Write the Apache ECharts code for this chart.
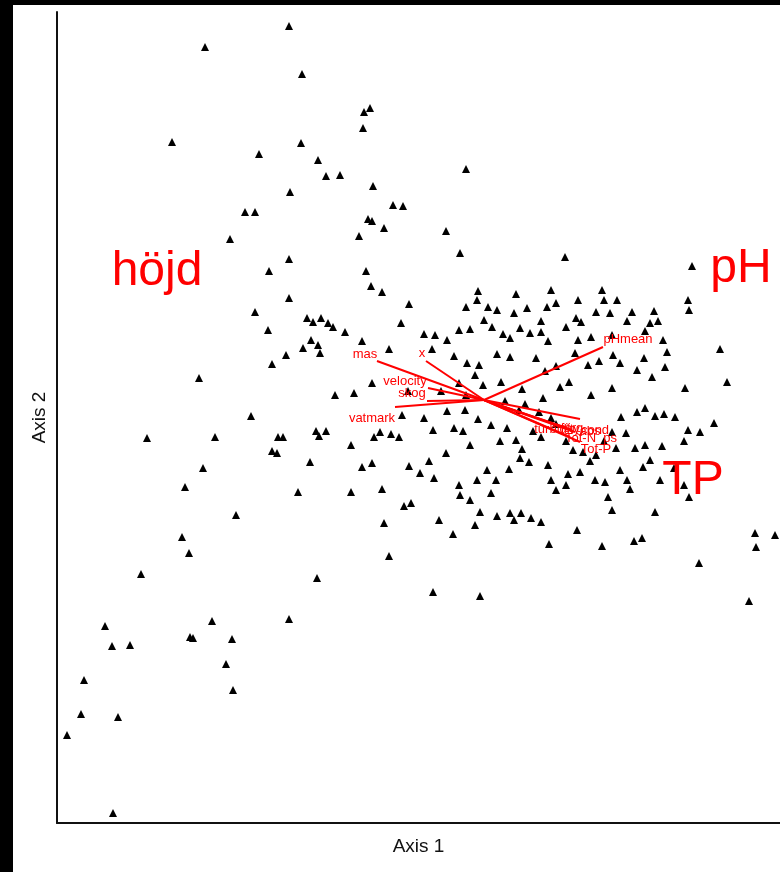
<!DOCTYPE html>
<html><head><meta charset="utf-8">
<script src="https://cdn.jsdelivr.net/npm/echarts@6/dist/echarts.min.js"></script>
<style>html,body{margin:0;padding:0;background:#fff}#c{width:780px;height:872px}</style>
</head><body><div id="c"></div>
<script>
// Site scores (Axis 1, Axis 2)
const sites = [
[-1.95,3.74],[-2.79,3.53],[-1.82,3.26],[-1.14,2.92],[-1.20,2.88],[-1.21,2.72],[-3.12,2.58],[-1.83,2.57],[-2.25,2.46],[-1.66,2.40],
[-0.18,2.31],[-1.58,2.24],[-1.44,2.25],[-1.11,2.14],[-1.94,2.08],[-0.91,1.95],[-0.81,1.94],[-2.39,1.88],[-2.29,1.88],[-1.16,1.81],
[-1.12,1.79],[-1.00,1.72],[-0.38,1.69],[-2.54,1.61],[-1.25,1.64],[-1.95,1.41],[-0.24,1.47],[0.81,1.43],[-2.15,1.29],[-1.18,1.29],
[2.08,1.34],[-1.13,1.14],[-1.02,1.08],[-0.06,1.09],[0.32,1.06],[0.67,1.10],[1.18,1.10],[0.94,1.00],[1.20,1.00],[-1.95,1.02],
[2.04,1.00],[-2.29,0.88],
[-0.83,0.77],[-0.75,0.96],[-0.60,0.66],[-0.49,0.65],[-0.37,0.60],[-0.25,0.70],[-0.14,0.71],[-0.07,1.00],[-0.18,0.93],[0.04,0.93],
[0.13,0.90],[0.00,0.80],[0.08,0.73],[0.19,0.66],[0.26,0.62],[0.30,0.87],[0.36,0.72],[0.43,0.92],[0.46,0.67],[0.57,0.79],
[0.57,0.68],[0.63,0.93],[0.72,0.97],[0.64,0.59],[0.82,0.73],[0.92,0.82],[0.97,0.78],[0.94,0.60],[1.07,0.63],[1.12,0.88],
[1.26,0.87],[1.28,0.65],[1.43,0.79],[1.48,0.88],[1.61,0.69],[1.70,0.89],[1.74,0.79],[1.66,0.77],[1.79,0.60],[2.05,0.90],
[1.33,1.00],[-1.77,0.82],[-1.71,0.78],[-1.63,0.82],[-1.56,0.77],[-1.51,0.73],[-1.39,0.68],[-1.73,0.60],[-2.16,0.70],[-1.66,0.55],
[-1.22,0.59],[-0.95,0.51],[-0.52,0.51],[-0.30,0.44],[-0.17,0.37],[-0.05,0.35],[0.13,0.46],[0.26,0.43],[0.52,0.42],[0.72,0.34],
[0.61,0.29],[0.91,0.47],[1.04,0.35],[1.15,0.39],[1.29,0.45],[1.36,0.37],[1.60,0.42],[1.68,0.23],[1.81,0.33],[1.83,0.48],
[1.53,0.30],[2.36,0.51],[2.43,0.18],[2.01,0.12],[1.28,0.12],[1.07,0.05],[0.85,0.18],[0.76,0.13],[0.59,0.02],[0.38,0.11],
[0.17,0.18],[-0.09,0.25],[-0.01,0.15],[-0.25,0.17],[-0.43,0.09],[-1.12,0.17],[-1.30,0.07],[-1.64,0.47],[-1.81,0.52],[-1.98,0.45],
[-2.12,0.36],[-1.49,0.05],[-0.76,0.09],[-0.18,0.05],[0.21,-0.01],[0.41,-0.04],[-2.85,0.22],
[-2.33,-0.16],[-2.06,-0.37],[-2.01,-0.37],[-2.12,-0.51],[-2.07,-0.53],[-1.68,-0.31],[-1.58,-0.31],[-1.65,-0.36],[-1.33,-0.45],[-1.10,-0.37],
[-1.04,-0.32],[-0.93,-0.34],[-0.85,-0.37],[-0.51,-0.30],[-0.30,-0.28],[-0.21,-0.31],[-0.06,-0.19],[0.07,-0.25],[0.23,-0.28],[0.32,-0.40],
[0.38,-0.49],[0.49,-0.31],[0.57,-0.37],[0.67,-0.18],[0.72,-0.24],[0.82,-0.41],[0.89,-0.50],[0.99,-0.52],[1.12,-0.55],[1.20,-0.41],
[1.28,-0.32],[1.42,-0.33],[1.37,-0.17],[1.53,-0.12],[1.61,-0.08],[1.71,-0.16],[1.80,-0.14],[1.91,-0.17],[2.04,-0.30],[2.16,-0.32],
[2.30,-0.23],[2.00,-0.41],[1.78,-0.46],[1.61,-0.45],[1.51,-0.48],[1.32,-0.48],[-0.14,-0.45],[0.16,-0.41],[-0.38,-0.53],[-0.55,-0.61],
[-0.75,-0.66],[-0.64,-0.73],[-0.50,-0.78],[-1.22,-0.67],[-1.12,-0.63],[-1.74,-0.62],[-0.37,-0.11],[-0.19,-0.10],[-0.60,-0.18],[-0.82,-0.15],
[0.35,-0.10],[0.55,-0.12],[-3.37,-0.38],[-2.69,-0.37],
[-0.25,-0.85],[-0.07,-0.80],[0.03,-0.70],[0.12,-0.80],[0.25,-0.69],[0.36,-0.58],[0.45,-0.62],[0.64,-0.65],[0.67,-0.80],[0.72,-0.90],
[0.82,-0.85],[0.84,-0.74],[0.96,-0.72],[1.06,-0.61],[1.11,-0.80],[1.21,-0.82],[1.24,-0.97],[1.28,-1.10],[1.36,-0.70],[1.43,-0.80],
[1.46,-0.89],[1.59,-0.67],[1.66,-0.60],[1.76,-0.80],[1.90,-0.68],[2.00,-0.85],[2.05,-0.97],[1.71,-1.12],[1.50,-1.41],[1.58,-1.38],
[1.18,-1.46],[0.65,-1.44],[0.93,-1.30],[0.47,-1.18],[0.37,-1.13],[0.26,-1.13],[0.30,-1.20],[0.13,-1.16],[0.57,-1.22],[0.07,-0.93],
[-0.14,-1.00],[-0.04,-1.12],[-0.31,-1.34],[-0.45,-1.20],[-0.80,-1.06],[-0.73,-1.03],[-1.00,-1.23],[-0.95,-1.56],[-1.33,-0.92],[-1.02,-0.89],
[-1.86,-0.92],[-0.09,-1.25],[-0.24,-0.95],[-2.81,-0.68],[-2.99,-0.87],[-2.48,-1.15],[-3.02,-1.37],[-2.95,-1.53],
[-1.67,-1.78],[-1.95,-2.19],[-0.51,-1.92],[-0.04,-1.96],[2.15,-1.63],[2.71,-1.33],[2.72,-1.47],[2.91,-1.35],[2.65,-2.01],[-3.43,-1.74],
[-2.72,-2.21],[-3.79,-2.26],[-2.94,-2.37],[-2.91,-2.38],[-2.52,-2.39],[-3.72,-2.46],[-3.54,-2.45],[-4.00,-2.80],[-2.58,-2.64],[-2.51,-2.90],
[-4.03,-3.14],[-3.66,-3.17],[-4.17,-3.35],[-3.71,-4.13]
];

// Environmental vectors
const vectorNames = ['mas','x','velocity','skog','vatmark','pHmean','turbidity','färg','abs','cond','Tot-N_ps','Tot-P'];
const vectorEnds  = [[-1.07,0.39],[-0.58,0.39],[-0.56,0.12],[-0.57,-0.01],[-0.89,-0.07],[1.19,0.53],[0.83,-0.28],[0.88,-0.30],[0.96,-0.19],[0.91,-0.32],[0.86,-0.37],[0.96,-0.42]];
const vectorLabels = [[-1.19,0.46],[-0.62,0.47],[-0.79,0.19],[-0.72,0.07],[-1.12,-0.18],[1.44,0.61],[0.73,-0.29],[0.88,-0.28],[1.06,-0.31],[1.11,-0.30],[1.07,-0.38],[1.12,-0.49]];

// Factor (big) labels
const factorNames = ['höjd','pH','TP'];
const factorPos = [[-3.27,1.28],[2.57,1.31],[2.09,-0.81]];

const RED = '#ff0000';
const FONT = '"Liberation Sans", Arial, sans-serif';

const chart = echarts.init(document.getElementById('c'), null, {renderer:'canvas'});
chart.setOption({
  animation:false,
  backgroundColor:'#ffffff',
  grid:{left:57, right:0, top:12, bottom:49, containLabel:false},
  xAxis:{type:'value', min:-4.27, max:2.96, splitLine:{show:false}, axisTick:{show:false}, axisLabel:{show:false},
    axisLine:{onZero:false, lineStyle:{color:'#111', width:2}},
    name:'Axis 1', nameLocation:'middle', nameGap:14, nameTextStyle:{color:'#111', fontSize:19, fontFamily:FONT}},
  yAxis:{type:'value', min:-4.23, max:3.88, splitLine:{show:false}, axisTick:{show:false}, axisLabel:{show:false},
    axisLine:{onZero:false, lineStyle:{color:'#111', width:2}},
    name:'Axis 2', nameLocation:'middle', nameGap:8, nameTextStyle:{color:'#111', fontSize:19, fontFamily:FONT}},
  graphic:[
    {type:'rect', shape:{x:0,y:0,width:13,height:872}, style:{fill:'#000'}, z:100},
    {type:'rect', shape:{x:0,y:0,width:780,height:5}, style:{fill:'#000'}, z:100}
  ],
  series:[
    {type:'scatter', data:sites, symbol:'triangle', symbolSize:[8,8], itemStyle:{color:'#000', opacity:1}, z:2},
    {type:'lines', coordinateSystem:'cartesian2d', polyline:false, z:3,
      data:vectorEnds.map(e=>({coords:[[0,0],e]})), lineStyle:{color:RED, width:2, opacity:1}},
    {type:'scatter', symbolSize:0, z:4, itemStyle:{opacity:1},
      data:vectorNames.map((n,i)=>({name:n, value:vectorLabels[i]})),
      label:{show:true, position:'inside', formatter:p=>p.name, color:RED, fontSize:13, fontFamily:FONT}},
    {type:'scatter', symbolSize:0, z:4, itemStyle:{opacity:1},
      data:factorNames.map((n,i)=>({name:n, value:factorPos[i]})),
      label:{show:true, position:'inside', formatter:p=>p.name, color:RED, fontSize:48, fontFamily:FONT}}
  ]
});
</script></body></html>
